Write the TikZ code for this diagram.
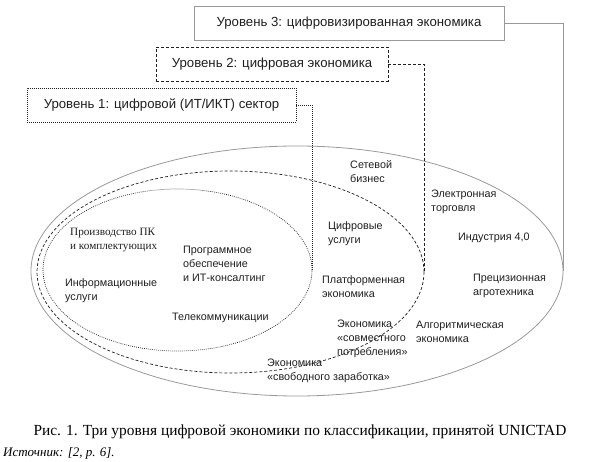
\documentclass[tikz,border=0pt]{standalone}
\usepackage{fontspec}
\setmainfont{Liberation Serif}
\setsansfont{Liberation Sans}
\usetikzlibrary{shapes.geometric}

\definecolor{framegray}{gray}{0.6}
\definecolor{inkgray}{gray}{0.12}

\begin{document}
\begin{tikzpicture}[x=1pt, y=-1pt,
    lvlbox/.style={minimum height=34pt, inner sep=0pt, outer sep=0pt, text=inkgray,
        font=\sffamily\fontsize{13.2}{15}\selectfont},
    zone/.style={ellipse, inner sep=0pt, outer sep=0pt},
    lbl/.style={anchor=west, align=left, inner sep=0pt, text=inkgray,
        font=\sffamily\fontsize{10.8}{14}\selectfont},
    solidline/.style={draw=framegray, line width=0.8pt},
    dashline/.style={draw=inkgray, line width=0.7pt, dash pattern=on 3pt off 2pt},
    dotline/.style={draw=inkgray, line width=0.7pt, dash pattern=on 0.8pt off 1.2pt}]

    \useasboundingbox (0,0) rectangle (595,462);

    % the three levels
    \node[lvlbox, solidline, minimum width=310pt] (lvlthree) at (349,23.5) {Уровень 3: цифровизированная экономика};
    \node[lvlbox, dashline, minimum width=232pt] (lvltwo) at (272,64) {Уровень 2: цифровая экономика};
    \node[lvlbox, dotline, minimum width=269pt] (lvlone) at (161.5,105) {Уровень 1: цифровой (ИТ/ИКТ) сектор};

    % nested zones
    \node[zone, solidline, minimum width=532pt, minimum height=250pt] (outer) at (297,271) {};
    \node[zone, dashline, minimum width=387pt, minimum height=202pt] (middle) at (230.5,272) {};
    \node[zone, dotline, minimum width=269pt, minimum height=162pt] (inner) at (177.5,270) {};

    % connectors from the boxes to their zones
    \draw[solidline] (lvlthree.east) -| (outer.east);
    \draw[dashline] (lvltwo.east) -| (middle.east);
    \draw[dotline] (lvlone.east) -| (inner.east);

    % level 1
    \node[lbl, font=\rmfamily\fontsize{11.2}{14}\selectfont] (hardware) at (70,240) {Производство ПК\\и комплектующих};
    \node[lbl] (software) at (183,263.5) {Программное\\обеспечение\\и ИТ-консалтинг};
    \node[lbl] (infoserv) at (65,290.5) {Информационные\\услуги};
    \node[lbl] (telecom) at (172,318) {Телекоммуникации};

    % level 2
    \node[lbl] (netbiz) at (350,172) {Сетевой\\бизнес};
    \node[lbl] (digserv) at (328,233.5) {Цифровые\\услуги};
    \node[lbl] (platform) at (322,287) {Платформенная\\экономика};
    \node[lbl] (sharing) at (337,338.5) {Экономика\\«совместного\\потребления»};
    \node[lbl] (gig) at (267,370.5) {Экономика\\«свободного заработка»};

    % level 3
    \node[lbl] (ecommerce) at (431,202) {Электронная\\торговля};
    \node[lbl] (industry) at (458,238) {Индустрия 4,0};
    \node[lbl] (precision) at (473,286) {Прецизионная\\агротехника};
    \node[lbl] (algo) at (416,331.5) {Алгоритмическая\\экономика};

    % caption and source
    \node[inner sep=0pt, font=\fontsize{15.4}{17}\selectfont] (caption) at (300,432) {Рис. 1. Три уровня цифровой экономики по классификации, принятой UNICTAD};
    \node[anchor=west, inner sep=0pt, font=\itshape\fontsize{13}{15}\selectfont] (source) at (3,453) {Источник: [2, p. 6].};

\end{tikzpicture}
\end{document}
